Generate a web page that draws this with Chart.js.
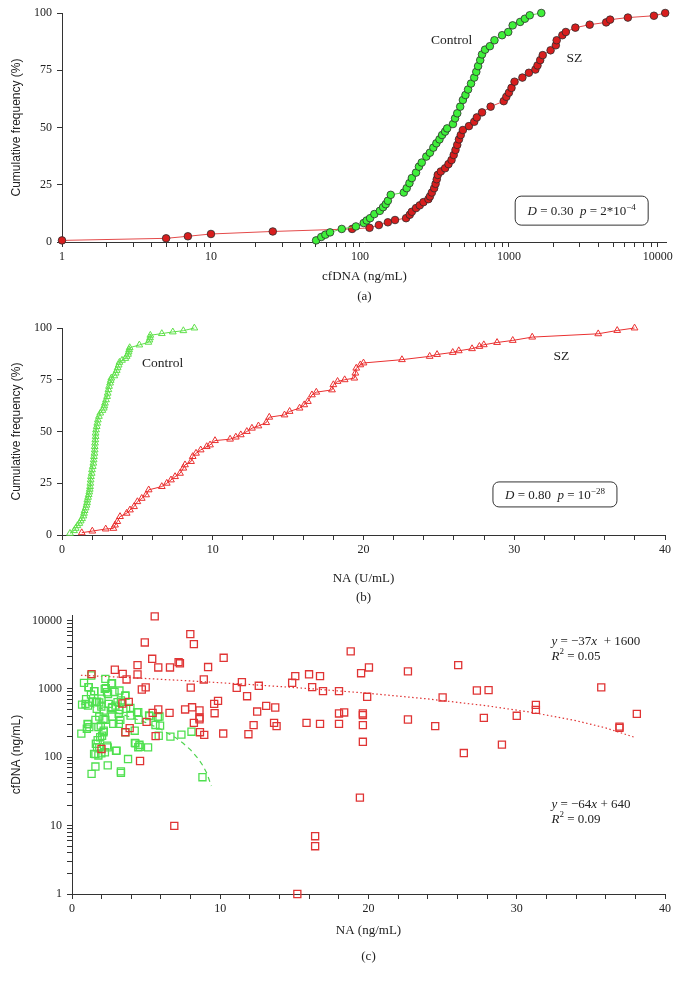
<!DOCTYPE html>
<html>
<head>
<meta charset="utf-8">
<script src="https://cdn.jsdelivr.net/npm/chart.js@4.4.1/dist/chart.umd.min.js"></script>
<style>
  html, body { margin: 0; padding: 0; background: #fff; }
  #wrap { position: relative; width: 676px; height: 982px; }
  #wrap canvas { position: absolute; left: 0; top: 0; }
</style>
</head>
<body>
<div id="wrap">
  <canvas id="chartA" width="676" height="982"></canvas>
  <canvas id="chartB" width="676" height="982"></canvas>
  <canvas id="chartC" width="676" height="982"></canvas>
</div>
<script>
// ---- (a) cumulative frequency of cfDNA (ng/mL) ----
const ctrlCfdnaA = [50.8, 55, 58.6, 63, 75.5, 94, 106, 111, 117, 125, 136, 143, 149, 154, 161, 197, 206, 215, 223, 238, 249, 260, 279, 295, 311, 326, 342, 356, 373, 385, 421, 435, 450, 471, 491, 511, 532, 557, 585, 604, 621, 642, 660, 692, 745, 800, 900, 990, 1060, 1190, 1280, 1380, 1650];
const ctrlCumA = [0.7, 2.2, 3.2, 4.2, 5.7, 6.8, 8.3, 9.4, 10.4, 12.2, 13.6, 15.2, 16.5, 18, 20.6, 21.6, 23.5, 25.7, 27.9, 30.3, 32.9, 34.7, 37.3, 39, 41.2, 43.1, 44.8, 46.7, 48.2, 49.6, 51.5, 54, 56.2, 59.1, 62, 64.2, 66.6, 69.2, 71.8, 74.3, 76.8, 79.4, 81.9, 84, 85.5, 88.1, 90.3, 91.7, 94.6, 96.1, 97.5, 99, 100];
const szCfdnaA = [1, 5, 7, 10, 26, 88.6, 116, 134, 154, 172, 204, 216, 223, 238, 252, 267, 288, 295, 304, 315, 322, 328, 333, 349, 373, 393, 412, 426, 438, 450, 462, 475, 491, 539, 585, 609, 660, 754, 923, 961, 1000, 1041, 1091, 1232, 1362, 1506, 1556, 1622, 1687, 1905, 2065, 2093, 2285, 2411, 2793, 3486, 4497, 4780, 6290, 9410, 11200];
const szCumA = [0.7, 1.6, 2.5, 3.5, 4.6, 5.7, 6.2, 7.4, 8.6, 9.6, 10.4, 11.9, 13.2, 14.8, 16, 17.4, 18.7, 19.9, 21.6, 23.5, 25.4, 27.4, 29.3, 30.8, 32.2, 34, 35.8, 38, 40.2, 42.4, 44.8, 46.7, 48.9, 50.6, 52.5, 54.4, 56.6, 59.1, 61.5, 63.4, 65.2, 67.3, 70, 71.8, 73.9, 75.3, 77.1, 79.4, 81.6, 83.7, 85.9, 88.1, 90.3, 91.7, 93.6, 94.9, 95.9, 97.1, 98, 98.8, 100];
const cfdnaDecades = [1, 10, 100, 1000, 10000];

// ---- (b) cumulative frequency of NA (U/mL) ----
const ctrlNaB = [0.53, 0.80, 0.91, 1.02, 1.15, 1.24, 1.33, 1.42, 1.46, 1.50, 1.57, 1.62, 1.66, 1.68, 1.73, 1.77, 1.81, 1.84, 1.86, 1.88, 1.90, 1.92, 1.97, 1.99, 2.04, 2.08, 2.10, 2.12, 2.15, 2.17, 2.17, 2.19, 2.21, 2.23, 2.23, 2.26, 2.30, 2.34, 2.38, 2.45, 2.54, 2.68, 2.77, 2.81, 2.85, 2.92, 2.99, 3.03, 3.08, 3.12, 3.19, 3.23, 3.27, 3.47, 3.56, 3.63, 3.69, 3.76, 3.81, 3.98, 4.20, 4.29, 4.38, 4.42, 4.45, 4.49, 5.13, 5.73, 5.80, 5.84, 5.86, 6.62, 7.35, 8.05, 8.78];
const ctrlCumB = [0.8, 2.1, 3.2, 4.5, 5.6, 6.8, 7.9, 9.2, 10.5, 11.8, 13.1, 14.4, 15.6, 16.9, 18.2, 19.5, 20.8, 22.1, 23.4, 25.0, 26.6, 28.2, 29.8, 31.5, 33.1, 34.7, 36.3, 37.9, 39.5, 41.1, 42.7, 44.4, 46.0, 47.6, 49.2, 50.8, 52.4, 54.0, 55.6, 57.3, 58.9, 60.2, 61.3, 62.4, 63.7, 65.3, 66.9, 68.5, 70.2, 71.8, 73.4, 74.7, 75.8, 76.9, 78.2, 79.5, 80.8, 82.1, 83.4, 84.4, 85.3, 86.3, 87.3, 88.4, 89.5, 90.5, 91.8, 93.1, 94.2, 95.3, 96.5, 97.3, 98.1, 98.7, 100];
const szNaB = [1.31, 2.01, 2.9, 3.41, 3.52, 3.67, 3.85, 4.29, 4.51, 4.78, 5.0, 5.29, 5.58, 5.75, 6.62, 6.95, 7.23, 7.5, 7.83, 8.05, 8.16, 8.56, 8.67, 8.89, 9.2, 9.6, 9.82, 10.15, 11.15, 11.53, 11.86, 12.26, 12.6, 13.03, 13.55, 13.75, 14.76, 15.1, 15.76, 16.07, 16.31, 16.58, 16.87, 17.91, 18.0, 18.28, 18.75, 19.39, 19.46, 19.52, 19.79, 20.0, 22.55, 24.39, 24.88, 25.92, 26.32, 27.2, 27.69, 27.98, 28.86, 29.9, 31.19, 35.57, 36.83, 37.98];
const szCumB = [1.1, 1.9, 2.9, 3.2, 4.8, 6.5, 8.9, 10.5, 12.1, 13.7, 16.1, 17.7, 19.4, 21.8, 23.4, 25, 26.6, 28.2, 29.8, 32.3, 33.9, 35.5, 37.9, 39.5, 41.1, 42.7, 43.5, 45.6, 46.3, 47.3, 48.4, 50, 51.6, 52.7, 54.3, 56.9, 58, 59.7, 61.3, 62.9, 64.5, 67.7, 69, 70.1, 72.6, 74.2, 75, 75.8, 78.2, 80.6, 82.2, 83.1, 84.7, 86.3, 87.2, 88.2, 89, 90, 91.1, 91.9, 93, 94, 95.6, 97.2, 98.8, 100];

// ---- (c) NA (ng/mL) vs cfDNA (ng/mL) ----
const szNaC = [5.58, 7.98, 8.22, 4.91, 18.8, 10.23, 5.41, 7.19, 7.28, 4.42, 26.05, 2.89, 5.82, 6.61, 9.18, 20.03, 22.66, 19.5, 1.32, 3.42, 4.42, 15.06, 15.99, 16.73, 3.68, 8.89, 11.46, 14.85, 12.6, 11.11, 8.01, 4.97, 4.71, 16.2, 16.93, 18.01, 27.31, 28.1, 35.7, 19.91, 25.0, 11.81, 31.29, 31.29, 9.85, 9.59, 13.1, 13.71, 8.1, 3.83, 5.82, 7.63, 8.6, 6.58, 5.44, 9.62, 12.49, 18.36, 18.01, 19.62, 19.62, 38.1, 8.6, 8.6, 22.66, 27.78, 30.0, 8.22, 5.03, 13.63, 15.82, 16.73, 18.01, 12.25, 13.8, 19.62, 24.5, 36.93, 3.89, 3.6, 8.63, 5.64, 8.92, 10.2, 11.9, 19.62, 29.0, 26.43, 1.99, 4.59, 19.42, 6.9, 16.4, 16.4, 15.2, 36.93, 3.4];
const szCfdnaC = [11450, 6310, 4510, 4760, 3520, 2840, 2750, 2460, 2360, 2220, 2220, 1900, 2050, 2050, 2080, 2050, 1800, 1690, 1640, 1650, 1620, 1530, 1630, 1530, 1370, 1370, 1250, 1225, 1107, 1030, 1040, 1050, 977, 1060, 925, 925, 945, 955, 1050, 764, 747, 780, 583, 493, 667, 603, 564, 533, 537, 645, 499, 499, 482, 445, 445, 440, 465, 451, 436, 436, 412, 430, 380, 359, 356, 376, 403, 318, 329, 318, 318, 307, 307, 294, 285, 294, 285, 269, 266, 232, 232, 203, 212, 222, 217, 168, 153, 115, 132, 88, 25.7, 9.9, 7, 5, 1, 280, 610];
const ctrlNaC = [1.30, 2.25, 2.70, 2.21, 0.81, 1.13, 2.36, 3.20, 3.60, 1.51, 1.28, 1.69, 1.35, 1.84, 0.95, 1.08, 0.68, 1.98, 1.67, 2.14, 2.48, 2.70, 2.93, 3.20, 3.94, 4.39, 3.15, 2.70, 2.25, 1.84, 1.58, 1.08, 1.00, 0.63, 1.94, 2.14, 2.03, 1.73, 1.69, 1.58, 1.98, 2.41, 2.41, 1.58, 2.97, 3.78, 3.26, 4.50, 4.23, 3.60, 4.55, 4.57, 4.28, 5.13, 5.22, 5.63, 5.85, 6.64, 7.38, 8.06, 5.90, 1.32, 3.30, 3.30, 8.80, 1.49, 1.78, 2.22, 2.37, 2.66, 1.99, 2.43, 3.07, 2.72, 1.61, 0.91, 4.47, 5.20, 5.79, 3.95, 3.65, 3.16, 2.78, 2.13, 1.05, 1.17, 1.78, 2.13, 1.90, 1.61, 1.84, 3.01, 4.24, 4.47, 5.94, 3.60, 2.87, 3.30, 1.49, 2.28, 1.11];
const ctrlCfdnaC = [1565, 1400, 1206, 998, 1222, 1054, 891, 944, 788, 921, 824, 650, 650, 634, 705, 568, 588, 549, 508, 480, 601, 525, 568, 491, 525, 454, 430, 393, 351, 393, 351, 302, 261, 221, 290, 244, 206, 178, 139, 111, 114, 139, 76, 73, 124, 94, 351, 351, 244, 231, 152, 142, 159, 139, 398, 296, 206, 200, 214, 236, 393, 57, 62, 59, 51, 112, 106, 118, 148, 1190, 720, 840, 638, 540, 638, 600, 456, 407, 387, 407, 509, 307, 307, 364, 307, 275, 275, 232, 196, 157, 140, 125, 162, 140, 290, 800, 900, 675, 925, 1023, 1060];
// fitted lines
const szTrendNa = [0.6, 4, 8, 12, 16, 20, 24, 28, 31, 34, 36, 38];
const szTrendCfdna = [1578, 1452, 1304, 1156, 1008, 860, 712, 564, 453, 342, 268, 194];
const ctrlTrendNa = [0.6, 2, 3.5, 5, 6, 7, 7.5, 8, 8.5, 8.8, 9.1, 9.4];
const ctrlTrendCfdna = [602, 512, 416, 320, 256, 192, 160, 128, 96, 77, 58, 38];
const cfdnaDecadesC = [1, 10, 100, 1000, 10000];

const serif = '"Liberation Serif", "Times New Roman", serif';
const sans = '"Liberation Sans", Arial, sans-serif';
const ink = '#222';
const axisColor = '#333';

Chart.defaults.font.family = serif;
Chart.defaults.color = ink;

function pairs(xs, ys) {
  return xs.map((x, i) => ({x: x, y: ys[i]}));
}

function logTicks(decades, upTo) {
  const out = [];
  decades.forEach(d => {
    [1, 2, 3, 4, 5, 6, 7, 8, 9].forEach(m => {
      if (d * m <= upTo) out.push({value: d * m});
    });
  });
  return out;
}

function isTen(v) {
  return Math.abs(v / 10 - Math.round(v / 10)) < 1e-6;
}

// text runs: {t, it, sup}
function runFont(r, size) {
  const s = r.sup ? Math.round(size * 0.7) : size;
  return (r.it ? 'italic ' : '') + s + 'px ' + serif;
}
function runsWidth(ctx, runs, size) {
  let w = 0;
  runs.forEach(r => { ctx.font = runFont(r, size); w += ctx.measureText(r.t).width; });
  return w;
}
function drawRuns(ctx, runs, x, y, size) {
  ctx.textAlign = 'left';
  ctx.textBaseline = 'alphabetic';
  runs.forEach(r => {
    ctx.font = runFont(r, size);
    ctx.fillText(r.t, x, r.sup ? y - size * 0.42 : y);
    x += ctx.measureText(r.t).width;
  });
}

function notesPlugin(notes) {
  return {
    id: 'notes',
    afterDatasetsDraw(chart) {
      const ctx = chart.ctx;
      const xs = chart.scales.x, ys = chart.scales.y;
      notes.forEach(n => {
        const size = n.size || 13;
        const px = xs.getPixelForValue(n.x);
        const py = ys.getPixelForValue(n.y);
        const w = runsWidth(ctx, n.runs, size);
        ctx.save();
        if (n.box) {
          ctx.beginPath();
          ctx.roundRect(px - n.box[0] / 2, py - n.box[1] / 2, n.box[0], n.box[1], 6);
          ctx.fillStyle = '#fff';
          ctx.fill();
          ctx.lineWidth = 1;
          ctx.strokeStyle = '#333';
          ctx.stroke();
        }
        ctx.fillStyle = ink;
        drawRuns(ctx, n.runs, n.center ? px - w / 2 : px, py + size * 0.35, size);
        ctx.restore();
      });
    }
  };
}

function axisStyle(extra) {
  return Object.assign({
    grid: {drawOnChartArea: false, drawTicks: true, tickLength: 5, tickColor: axisColor, color: axisColor},
    border: {display: true, color: axisColor, width: 1}
  }, extra);
}

const tickFont = {family: serif, size: 12};
const yTitle = text => ({display: true, text: text, font: {family: sans, size: 12}, color: ink, padding: {top: 9, bottom: 0}});

const baseOptions = (padding) => ({
  responsive: false,
  animation: false,
  events: [],
  layout: {padding: padding},
  plugins: {legend: {display: false}, tooltip: {enabled: false}}
});

// ---------- chart (a) ----------
const notesA = [
  {x: 300, y: 88.5, size: 13.5, runs: [{t: 'Control'}]},
  {x: 2440, y: 80.8, size: 13.5, runs: [{t: 'SZ'}]},
  {x: 3080, y: 13.7, center: true, box: [133, 29], runs: [{t: 'D', it: true}, {t: ' = 0.30  '}, {t: 'p', it: true}, {t: ' = 2*10'}, {t: '\u22124', sup: true}]}
];
const optsA = baseOptions({top: 13, right: 9, bottom: 675, left: 0});
optsA.scales = {
  x: axisStyle({
    type: 'logarithmic', min: 1, max: 11500,
    afterBuildTicks: s => { s.ticks = logTicks(cfdnaDecades, 11500); },
    afterFit: s => { s.height = 65; },
    ticks: {autoSkip: false, maxRotation: 0, padding: 3, font: tickFont, color: ink,
      callback: v => cfdnaDecades.includes(v) ? String(v) : ''},
    title: {display: true, text: ['cfDNA (ng/mL)', '(a)'], font: {family: serif, size: 13, lineHeight: 20 / 13}, color: ink, padding: 0}
  }),
  y: axisStyle({
    min: 0, max: 100,
    afterFit: s => { s.width = 62; },
    ticks: {stepSize: 25, padding: 5, font: tickFont, color: ink},
    title: yTitle('Cumulative frequency (%)')
  })
};
new Chart(document.getElementById('chartA'), {
  type: 'scatter',
  data: {datasets: [
    {label: 'Control', data: pairs(ctrlCfdnaA, ctrlCumA), showLine: true, borderColor: '#5fd84a', borderWidth: 1,
      pointRadius: 3.8, pointStyle: 'circle', pointBackgroundColor: '#3ff03a', pointBorderColor: '#2c2c2c', pointBorderWidth: 0.8, clip: false},
    {label: 'SZ', data: pairs(szCfdnaA, szCumA), showLine: true, borderColor: '#e44a4a', borderWidth: 1,
      pointRadius: 3.8, pointStyle: 'circle', pointBackgroundColor: '#d81e1e', pointBorderColor: '#2c2c2c', pointBorderWidth: 0.8, clip: false}
  ]},
  options: optsA,
  plugins: [notesPlugin(notesA)]
});

// ---------- chart (b) ----------
const notesB = [
  {x: 5.3, y: 83.3, size: 13.5, runs: [{t: 'Control'}]},
  {x: 32.6, y: 86.6, size: 13.5, runs: [{t: 'SZ'}]},
  {x: 32.7, y: 19.6, center: true, box: [124, 25], runs: [{t: 'D', it: true}, {t: ' = 0.80  '}, {t: 'p', it: true}, {t: ' = 10'}, {t: '\u221228', sup: true}]}
];
const optsB = baseOptions({top: 328, right: 11, bottom: 375, left: 0});
optsB.scales = {
  x: axisStyle({
    type: 'linear', min: 0, max: 40,
    afterFit: s => { s.height = 72; },
    ticks: {stepSize: 2, autoSkip: false, maxRotation: 0, padding: 3, font: tickFont, color: ink,
      callback: v => isTen(v) ? String(v) : ''},
    title: {display: true, text: ['NA (U/mL)', '(b)'], font: {family: serif, size: 13, lineHeight: 19 / 13}, color: ink, padding: 0}
  }),
  y: axisStyle({
    min: 0, max: 100,
    afterFit: s => { s.width = 62; },
    ticks: {stepSize: 25, padding: 5, font: tickFont, color: ink},
    title: yTitle('Cumulative frequency (%)')
  })
};
new Chart(document.getElementById('chartB'), {
  type: 'scatter',
  data: {datasets: [
    {label: 'Control', data: pairs(ctrlNaB, ctrlCumB), showLine: true, borderColor: '#5fe04a', borderWidth: 1,
      pointRadius: 3.9, pointStyle: 'triangle', pointBackgroundColor: 'rgba(0,0,0,0)', pointBorderColor: '#5fe04a', pointBorderWidth: 1, clip: false},
    {label: 'SZ', data: pairs(szNaB, szCumB), showLine: true, borderColor: '#ea3030', borderWidth: 1,
      pointRadius: 3.9, pointStyle: 'triangle', pointBackgroundColor: 'rgba(0,0,0,0)', pointBorderColor: '#ea3030', pointBorderWidth: 1, clip: false}
  ]},
  options: optsB,
  plugins: [notesPlugin(notesB)]
});

// ---------- chart (c) ----------
const notesC = [
  {x: 32.34, y: 5035, runs: [{t: 'y', it: true}, {t: ' = \u221237'}, {t: 'x', it: true}, {t: '  + 1600'}]},
  {x: 32.34, y: 3120, runs: [{t: 'R', it: true}, {t: '2', sup: true}, {t: ' = 0.05'}]},
  {x: 32.34, y: 21.4, runs: [{t: 'y', it: true}, {t: ' = \u221264'}, {t: 'x', it: true}, {t: ' + 640'}]},
  {x: 32.34, y: 12.9, runs: [{t: 'R', it: true}, {t: '2', sup: true}, {t: ' = 0.09'}]}
];
const optsC = baseOptions({top: 615, right: 11, bottom: 12, left: 0});
optsC.scales = {
  x: axisStyle({
    type: 'linear', min: 0, max: 40,
    afterFit: s => { s.height = 76; },
    ticks: {stepSize: 2, autoSkip: false, maxRotation: 0, padding: 3, font: tickFont, color: ink,
      callback: v => isTen(v) ? String(v) : ''},
    title: {display: true, text: ['NA (ng/mL)', '(c)'], font: {family: serif, size: 13, lineHeight: 26 / 13}, color: ink, padding: 0}
  }),
  y: axisStyle({
    type: 'logarithmic', min: 1, max: 12000,
    afterBuildTicks: s => { s.ticks = logTicks(cfdnaDecadesC, 12000); },
    afterFit: s => { s.width = 72; },
    ticks: {autoSkip: false, padding: 5, font: tickFont, color: ink,
      callback: v => cfdnaDecadesC.includes(v) ? String(v) : ''},
    title: yTitle('cfDNA (ng/mL)')
  })
};
new Chart(document.getElementById('chartC'), {
  type: 'scatter',
  data: {datasets: [
    {label: 'SZ', data: pairs(szNaC, szCfdnaC), pointRadius: 5, pointStyle: 'rect',
      pointBackgroundColor: 'rgba(0,0,0,0)', pointBorderColor: '#e03434', pointBorderWidth: 1.3, clip: false},
    {label: 'Control', data: pairs(ctrlNaC, ctrlCfdnaC), pointRadius: 5, pointStyle: 'rect',
      pointBackgroundColor: 'rgba(0,0,0,0)', pointBorderColor: '#4fe04f', pointBorderWidth: 1.3, clip: false},
    {label: 'SZ fit', data: pairs(szTrendNa, szTrendCfdna), showLine: true, pointRadius: 0,
      borderColor: '#e03434', borderWidth: 1.2, borderDash: [1.5, 2.5]},
    {label: 'Control fit', data: pairs(ctrlTrendNa, ctrlTrendCfdna), showLine: true, pointRadius: 0,
      borderColor: '#4fd44f', borderWidth: 1.2, borderDash: [5, 4]}
  ]},
  options: optsC,
  plugins: [notesPlugin(notesC)]
});
</script>
</body>
</html>
